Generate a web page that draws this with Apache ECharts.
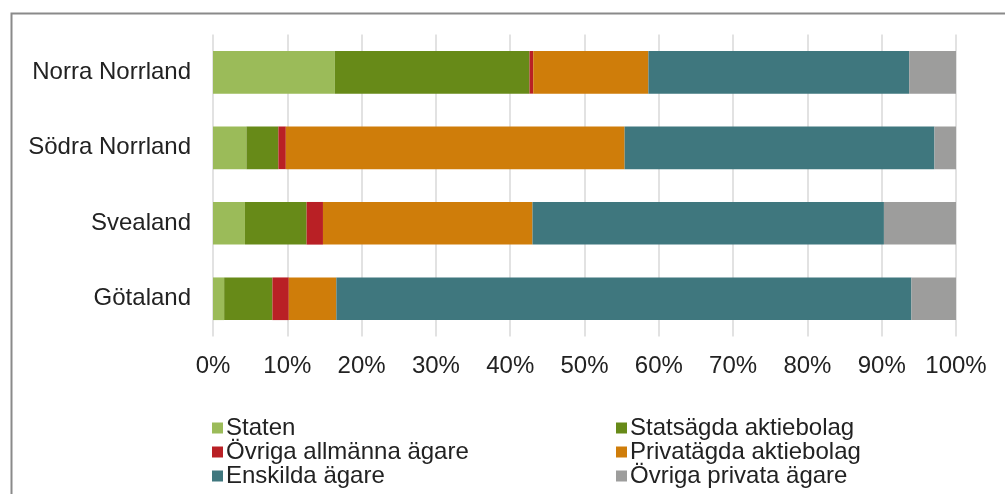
<!DOCTYPE html>
<html>
<head>
<meta charset="utf-8">
<script src="https://cdn.jsdelivr.net/npm/echarts@6/dist/echarts.min.js"></script>
<style>html,body{margin:0;padding:0;background:#fff;}#c{width:1005px;height:494px;}</style>
</head>
<body>
<div id="c"></div>
<script>
const categories = ['Norra Norrland', 'Södra Norrland', 'Svealand', 'Götaland'];
const seriesNames = ['Staten', 'Statsägda aktiebolag', 'Övriga allmänna ägare', 'Privatägda aktiebolag', 'Enskilda ägare', 'Övriga privata ägare'];
const staten = [16.4, 4.5, 4.3, 1.5];
const statsagda = [26.2, 4.3, 8.3, 6.5];
const ovrigaAllmanna = [0.5, 1.0, 2.2, 2.2];
const privatagda = [15.5, 45.6, 28.2, 6.4];
const enskilda = [35.1, 41.7, 47.3, 77.4];
const ovrigaPrivata = [6.3, 2.9, 9.7, 6.0];
const xTicks = [0, 10, 20, 30, 40, 50, 60, 70, 80, 90, 100];

const colors = ['#9BBB59', '#678A18', '#B92025', '#CF7D0A', '#3F777E', '#9D9D9C'];
const values = [staten, statsagda, ovrigaAllmanna, privatagda, enskilda, ovrigaPrivata];
const font = 'Liberation Sans, Arial, sans-serif';

const chart = echarts.init(document.getElementById('c'), null, {renderer: 'canvas'});
chart.setOption({
  animation: false,
  backgroundColor: '#fff',
  graphic: [{
    type: 'rect', left: 9, top: 11,
    shape: {x: 0, y: 0, width: 1100, height: 600},
    style: {fill: 'none', stroke: '#8a8a8a', lineWidth: 2}
  }],
  grid: {left: 213, right: 49, top: 34.6, bottom: 157.5, containLabel: false},
  xAxis: {
    type: 'value', min: xTicks[0], max: xTicks[xTicks.length - 1], interval: 10,
    axisLine: {show: false}, axisTick: {show: false},
    splitLine: {show: true, lineStyle: {color: '#D9D9D9', width: 1.5}},
    axisLabel: {formatter: '{value}%', color: '#222', fontFamily: font, fontSize: 24, margin: 18}
  },
  yAxis: {
    type: 'category', data: categories, inverse: true,
    axisLine: {show: false}, axisTick: {show: false},
    axisLabel: {color: '#222', fontFamily: font, fontSize: 24, margin: 22}
  },
  legend: [{
    orient: 'vertical', left: 207, top: 411, itemGap: 0,
    itemWidth: 11, itemHeight: 11, icon: 'rect',
    textStyle: {color: '#222', fontFamily: font, fontSize: 24, lineHeight: 23.5, padding: [0, 0, 0, -2]},
    data: [seriesNames[0], seriesNames[2], seriesNames[4]]
  }, {
    orient: 'vertical', left: 611, top: 411, itemGap: 0,
    itemWidth: 11, itemHeight: 11, icon: 'rect',
    textStyle: {color: '#222', fontFamily: font, fontSize: 24, lineHeight: 23.5, padding: [0, 0, 0, -2]},
    data: [seriesNames[1], seriesNames[3], seriesNames[5]]
  }],
  series: seriesNames.map((n, i) => ({
    name: n, type: 'bar', stack: 'total', data: values[i],
    barCategoryGap: '43.5%',
    itemStyle: {color: colors[i]}
  }))
});
</script>
</body>
</html>
